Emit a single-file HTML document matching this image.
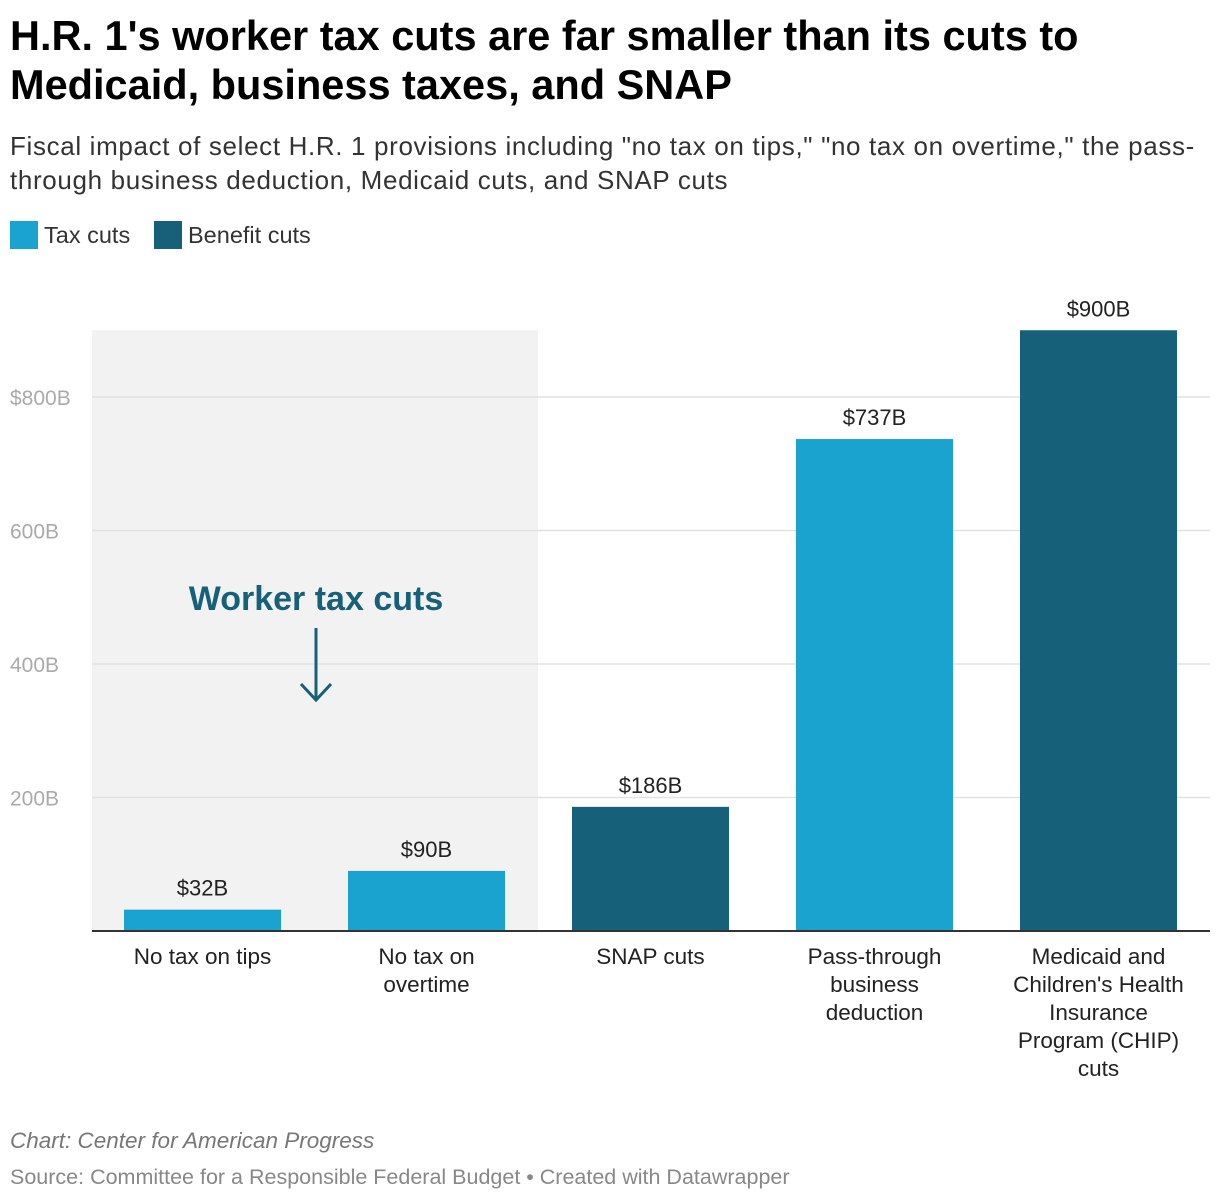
<!DOCTYPE html>
<html><head><meta charset="utf-8"><style>
body{margin:0;width:1220px;height:1202px;background:#fff;font-family:"Liberation Sans",Roboto,sans-serif;overflow:hidden}
.t{position:absolute;left:10px;font-weight:bold;font-size:41.5px;color:#000;line-height:49px;top:11px;letter-spacing:0px;white-space:nowrap}
.s{position:absolute;left:10px;top:129px;font-size:26px;line-height:34px;color:#333;white-space:nowrap;letter-spacing:0.65px}
.lg{position:absolute;top:221px;font-size:23.5px;color:#333;display:flex;align-items:center}
.sw{width:28px;height:28px;margin-right:6px;display:inline-block}
.f1{position:absolute;left:10px;top:1128px;font-size:22.5px;font-style:italic;color:#777}
.f2{position:absolute;left:10px;top:1165px;font-size:21.5px;color:#888}
</style></head><body>
<div class="t">H.R. 1's worker tax cuts are far smaller than its cuts to<br>Medicaid, business taxes, and SNAP</div>
<div class="s">Fiscal impact of select H.R. 1 provisions including "no tax on tips," "no tax on overtime," the pass-<br>through business deduction, Medicaid cuts, and SNAP cuts</div>
<div class="lg" style="left:10px"><span class="sw" style="background:#1aa3cf"></span>Tax cuts</div>
<div class="lg" style="left:154px"><span class="sw" style="background:#17607a"></span>Benefit cuts</div>
<svg id="c" width="1220" height="1202" style="position:absolute;left:0;top:0"></svg>
<div class="f1">Chart: Center for American Progress</div>
<div class="f2">Source: Committee for a Responsible Federal Budget • Created with Datawrapper</div>
<script>
const categories=[["No tax on tips"],["No tax on","overtime"],["SNAP cuts"],["Pass-through","business","deduction"],["Medicaid and","Children's Health","Insurance","Program (CHIP)","cuts"]];
const values=[32,90,186,737,900];
const types=["tax","tax","benefit","tax","benefit"];
const ticks=[200,400,600,800];
const tickLabels=["200B","400B","600B","$800B"];
const NS="http://www.w3.org/2000/svg";
const svg=document.getElementById('c');
const base=931,scale=534/800;
const y=v=>base-v*scale;
const x=i=>124+i*224;
const bw=157;
function mk(t,a,txt){const e=document.createElementNS(NS,t);for(const k in a)e.setAttribute(k,a[k]);if(txt!=null)e.textContent=txt;svg.appendChild(e);return e;}
let bg=mk('rect',{x:92,y:y(900),width:446,height:base-y(900),fill:'#f2f2f2'});


ticks.forEach((t,i)=>{
 let g=mk('line',{x1:92,x2:1210,y1:y(t),y2:y(t),stroke:'#e2e2e2','stroke-width':1.5});
 
 
 let l=mk('text',{x:10,y:y(t)+8,'font-size':21,fill:'#aaa','font-family':'Liberation Sans,sans-serif'},tickLabels[i]);
 
 
});
values.forEach((v,i)=>{
 let r=mk('rect',{x:x(i),y:y(v),width:bw,height:base-y(v),fill:types[i]=="tax"?'#1aa3cf':'#17607a'});
 
 
 let t=mk('text',{x:x(i)+bw/2,y:y(v)-14,'text-anchor':'middle','font-size':22,fill:'#222','font-family':'Liberation Sans,sans-serif'},'$'+v+'B');
 
 
 categories[i].forEach((ln,j)=>{
  let c=mk('text',{x:x(i)+bw/2,y:964+j*28,'text-anchor':'middle','font-size':22.5,fill:'#222','font-family':'Liberation Sans,sans-serif'},ln);
  
  
 });
});
let ax=mk('line',{x1:92,x2:1210,y1:base,y2:base,stroke:'#333','stroke-width':2});


let an=mk('text',{x:316,y:610,'text-anchor':'middle','font-size':34,'font-weight':'bold',fill:'#17607a','font-family':'Liberation Sans,sans-serif'},'Worker tax cuts');


let ar=mk('path',{d:'M316 628 L316 700 M301 684 L316 700 L331 684',stroke:'#17607a','stroke-width':3,fill:'none'});


</script>
</body></html>
